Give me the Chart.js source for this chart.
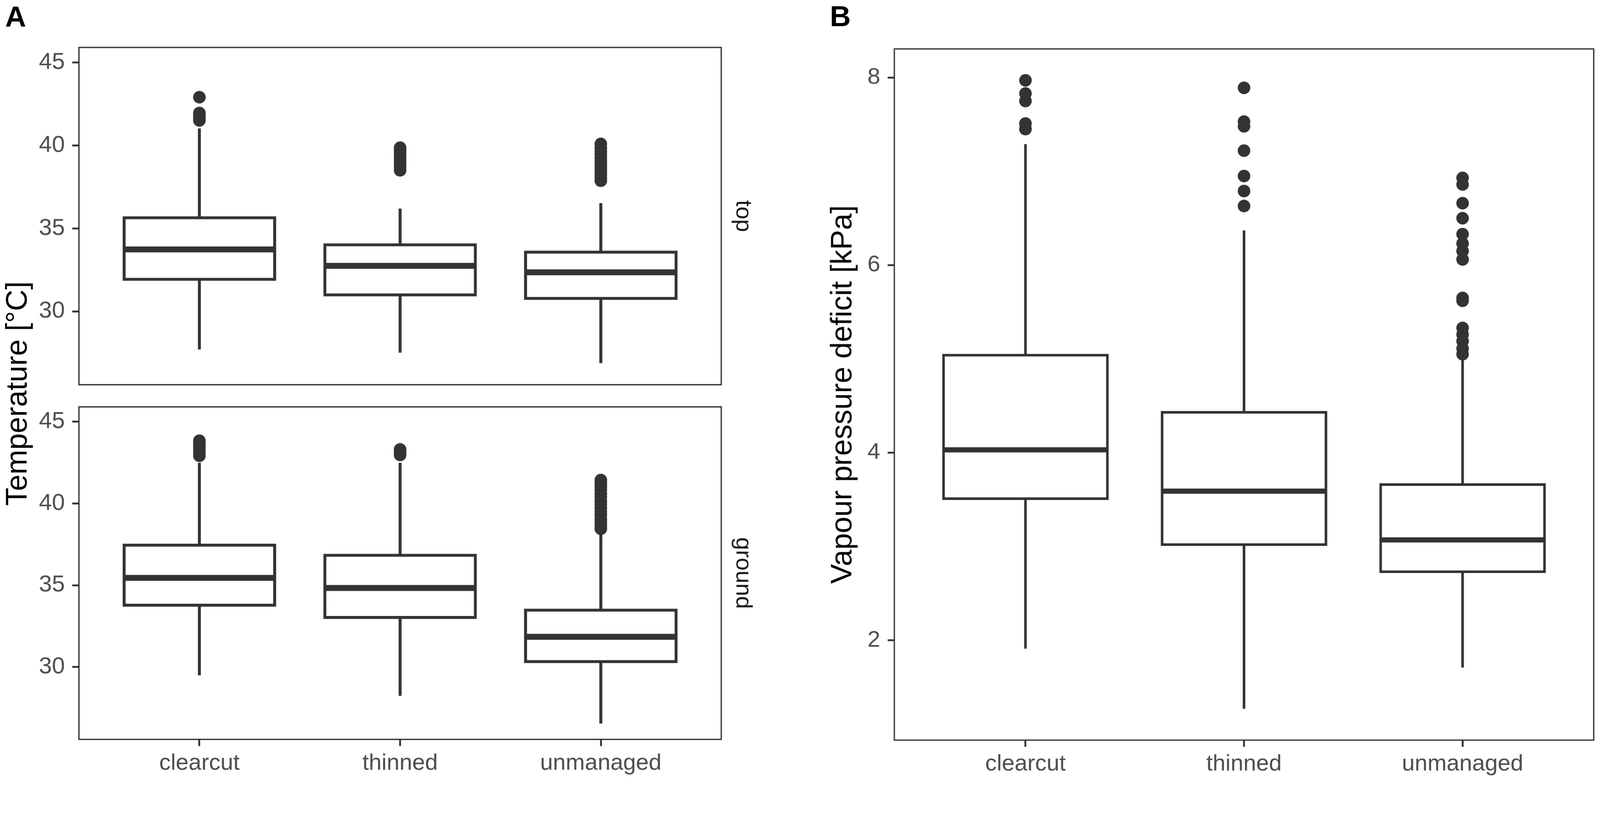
<!DOCTYPE html>
<html>
<head>
<meta charset="utf-8">
<script src="https://cdn.jsdelivr.net/npm/chart.js@4.4.1/dist/chart.umd.min.js"></script>
<style>
  html, body { margin: 0; padding: 0; background: #fff; overflow: hidden; }
  #page { position: absolute; left: 0; top: 0; width: 4317px; height: 2107px; transform-origin: 0 0; font-family: 'Liberation Sans', Arial, sans-serif; }
  canvas { position: absolute; }
  .panel-tag { position: absolute; font-weight: bold; font-size: 78px; line-height: 78px; color: #000; }
  #temp-title { position: absolute; left: -555px; top: 1012px; width: 1200px; height: 100px; line-height: 100px; text-align: center; font-size: 80px; color: #000; transform: rotate(-90deg); white-space: nowrap; }
</style>
</head>
<body>
<div id="page">
  <div class="panel-tag" style="left:14px; top:6px;">A</div>
  <div class="panel-tag" style="left:2239px; top:5px;">B</div>
  <div id="temp-title">Temperature [°C]</div>
  <canvas id="top-chart" width="2110" height="1100" style="left:0; top:0;"></canvas>
  <canvas id="ground-chart" width="2110" height="1067" style="left:0; top:1040px;"></canvas>
  <canvas id="vpd-chart" width="2167" height="2107" style="left:2150px; top:0;"></canvas>
</div>

<script>
// Data

var categories = ['clearcut', 'thinned', 'unmanaged'];

var tempTicks = [30, 35, 40, 45];
var tempMin = 25.58;
var tempMax = 45.9;

var vpdTicks = [2, 4, 6, 8];
var vpdMin = 0.935;
var vpdMax = 8.305;

// Temperature, top sensors
var topLow = [27.70, 27.51, 26.88];
var topQ1 = [31.93, 30.99, 30.78];
var topMedian = [33.73, 32.74, 32.35];
var topQ3 = [35.64, 34.01, 33.57];
var topHigh = [41.02, 36.19, 36.52];
var topOutliers = [
    [42.9, 41.95, 41.8, 41.65, 41.5],
    [38.5, 38.7, 38.9, 39.1, 39.3, 39.5, 39.7, 39.86],
    [37.87, 38.05, 38.25, 38.45, 38.65, 38.85, 39.05, 39.25, 39.45, 39.65, 39.85, 40.09]
];

// Temperature, ground sensors
var groundLow = [29.49, 28.24, 26.55];
var groundQ1 = [33.78, 33.03, 30.33];
var groundMedian = [35.45, 34.83, 31.85];
var groundQ3 = [37.45, 36.83, 33.48];
var groundHigh = [42.48, 42.48, 38.08];
var groundOutliers = [
    [42.91, 43.1, 43.3, 43.5, 43.68, 43.83],
    [42.96, 43.12, 43.3],
    [38.45, 38.65, 38.85, 39.05, 39.3, 39.5, 39.7, 39.95, 40.15, 40.4, 40.6, 40.85, 41.05, 41.25, 41.43]
];

// Vapour pressure deficit
var vpdLow = [1.91, 1.27, 1.71];
var vpdQ1 = [3.51, 3.02, 2.73];
var vpdMedian = [4.03, 3.59, 3.07];
var vpdQ3 = [5.04, 4.43, 3.66];
var vpdHigh = [7.29, 6.37, 4.99];
var vpdOutliers = [
    [7.97, 7.83, 7.75, 7.51, 7.45],
    [7.89, 7.53, 7.48, 7.22, 6.95, 6.79, 6.63],
    [6.93, 6.86, 6.66, 6.50, 6.33, 6.23, 6.15, 6.06, 5.65, 5.62, 5.33, 5.26, 5.19, 5.11, 5.05]
];

var boxWidth = 0.75;
var ink = '#333333';
var tickGrey = '#4D4D4D';

// the layout below is in reference pixels; fit it to whatever viewport we get
var page = document.getElementById('page');
var fit = Math.min(window.innerWidth / 4317, window.innerHeight / 2107);
page.style.transform = 'scale(' + fit + ')';

Chart.defaults.font.family = "'Liberation Sans', Arial, sans-serif";

// panel border on all four sides, like theme_bw
var panelFrame = {
    id: 'panelFrame',
    afterDraw: function (chart) {
        var a = chart.chartArea;
        var c = chart.ctx;
        c.save();
        c.strokeStyle = ink;
        c.lineWidth = 3.5;
        c.strokeRect(a.left, a.top, a.right - a.left, a.bottom - a.top);
        c.restore();
    }
};

function tickGrid() {
    return { display: true, offset: false, drawOnChartArea: false, drawTicks: true, tickLength: 18, tickWidth: 5, tickColor: ink };
}

function boxChart(id, cfg) {
    var half = boxWidth / 2;
    var boxes = [], whiskers = [], medians = [], dots = [];

    categories.forEach(function (c, i) {
        var x = i + 1;
        boxes.push({ x: x, y: [cfg.q1[i], cfg.q3[i]] });
        whiskers.push({ x: x, y: cfg.low[i] }, { x: x, y: cfg.q1[i] }, { x: x, y: null },
                      { x: x, y: cfg.q3[i] }, { x: x, y: cfg.high[i] }, { x: x, y: null });
        medians.push({ x: x - half, y: cfg.median[i] }, { x: x + half, y: cfg.median[i] }, { x: x + half, y: null });
        cfg.outliers[i].forEach(function (v) { dots.push({ x: x, y: v }); });
    });

    var scales = {
        x: {
            type: 'linear',
            min: 0.4,
            max: 3.6,
            offset: false,
            display: cfg.showX,
            afterBuildTicks: function (s) {
                s.ticks = categories.map(function (c, i) { return { value: i + 1 }; });
            },
            ticks: {
                callback: function (v) { return categories[v - 1]; },
                font: { size: 62 },
                color: tickGrey,
                padding: 10,
                maxRotation: 0,
                autoSkip: false
            },
            grid: tickGrid(),
            border: { display: false },
            afterFit: function (s) { s.height = cfg.xHeight; }
        },
        y: {
            type: 'linear',
            min: cfg.min,
            max: cfg.max,
            afterBuildTicks: function (s) {
                s.ticks = cfg.ticks.map(function (v) { return { value: v }; });
            },
            ticks: { font: { size: cfg.tickSize }, color: tickGrey, padding: 20 },
            grid: tickGrid(),
            border: { display: false },
            title: cfg.yTitle ? {
                display: true,
                text: cfg.yTitle,
                font: { size: 80 },
                color: '#000',
                padding: { top: 77, bottom: 0 }
            } : { display: false },
            afterFit: function (s) { s.width = cfg.yWidth; }
        }
    };

    if (cfg.strip) {
        scales.y2 = {
            type: 'linear',
            position: 'right',
            display: true,
            ticks: { display: false },
            grid: { display: false },
            border: { display: false },
            title: {
                display: true,
                text: cfg.strip,
                font: { size: 62 },
                color: '#1A1A1A',
                padding: { top: 69, bottom: 0 }
            },
            afterFit: function (s) { s.width = cfg.stripWidth; }
        };
    }

    return new Chart(document.getElementById(id).getContext('2d'), {
        type: 'bar',
        data: {
            datasets: [
                {
                    type: 'line',
                    data: medians,
                    borderColor: ink,
                    borderWidth: cfg.medianWidth,
                    borderCapStyle: 'butt',
                    pointRadius: 0,
                    spanGaps: false,
                    fill: false,
                    order: 0
                },
                {
                    type: 'bar',
                    data: boxes,
                    backgroundColor: '#ffffff',
                    borderColor: ink,
                    borderWidth: cfg.lineWidth,
                    borderSkipped: false,
                    inflateAmount: cfg.lineWidth / 2,
                    barPercentage: boxWidth,
                    categoryPercentage: 1,
                    order: 1
                },
                {
                    type: 'line',
                    data: whiskers,
                    borderColor: ink,
                    borderWidth: cfg.lineWidth,
                    borderCapStyle: 'butt',
                    pointRadius: 0,
                    spanGaps: false,
                    fill: false,
                    order: 2
                },
                {
                    type: 'scatter',
                    data: dots,
                    backgroundColor: ink,
                    borderWidth: 0,
                    pointRadius: 17,
                    order: 3
                }
            ]
        },
        options: {
            responsive: false,
            animation: false,
            events: [],
            layout: { padding: cfg.padding },
            scales: scales,
            plugins: {
                legend: { display: false },
                tooltip: { enabled: false }
            }
        },
        plugins: [panelFrame]
    });
}

//Temperature - top

boxChart('top-chart', {
    low: topLow, q1: topQ1, median: topMedian, q3: topQ3, high: topHigh, outliers: topOutliers,
    min: tempMin, max: tempMax, ticks: tempTicks, tickSize: 63,
    showX: false, xHeight: 0, yWidth: 213,
    strip: 'top', stripWidth: 164,
    lineWidth: 8, medianWidth: 16,
    padding: { top: 128, bottom: 62, left: 0, right: 0 }
});

//Temperature - ground

boxChart('ground-chart', {
    low: groundLow, q1: groundQ1, median: groundMedian, q3: groundQ3, high: groundHigh, outliers: groundOutliers,
    min: tempMin, max: tempMax, ticks: tempTicks, tickSize: 63,
    showX: true, xHeight: 112, yWidth: 213,
    strip: 'ground', stripWidth: 164,
    lineWidth: 8, medianWidth: 16,
    padding: { top: 40, bottom: 0, left: 0, right: 0 }
});

//Vapour pressure deficit

boxChart('vpd-chart', {
    low: vpdLow, q1: vpdQ1, median: vpdMedian, q3: vpdQ3, high: vpdHigh, outliers: vpdOutliers,
    min: vpdMin, max: vpdMax, ticks: vpdTicks, tickSize: 62,
    showX: true, xHeight: 110, yWidth: 263,
    yTitle: 'Vapour pressure deficit [kPa]',
    lineWidth: 7, medianWidth: 14,
    padding: { top: 132, bottom: 0, left: 0, right: 13 }
});
</script>
</body>
</html>
